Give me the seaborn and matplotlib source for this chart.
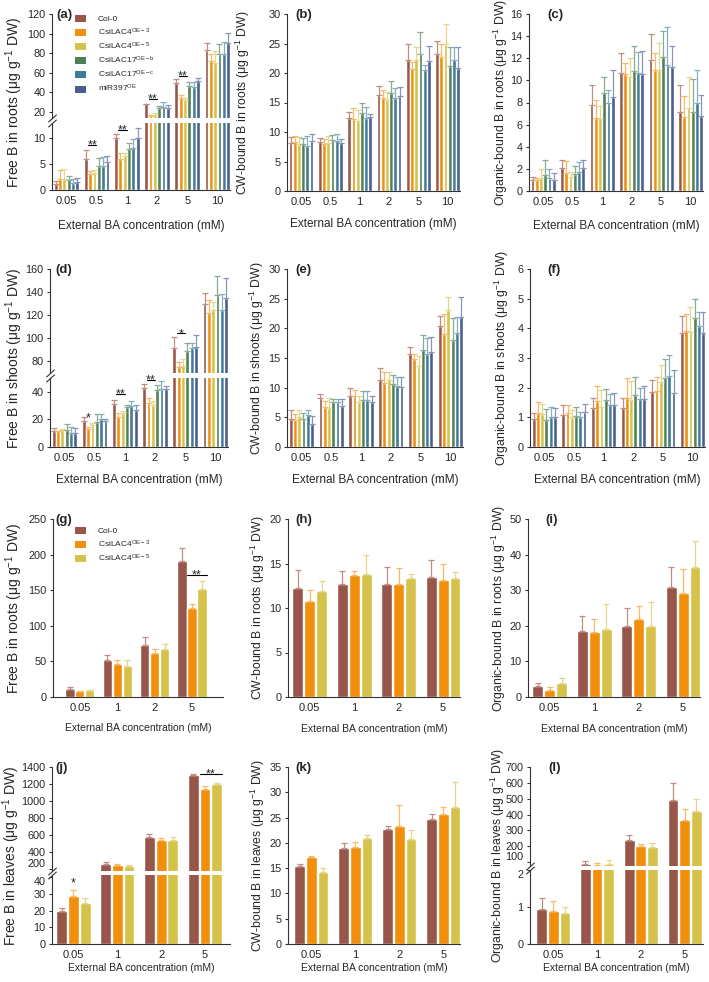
import numpy as np
import pandas as pd
import seaborn as sns
import matplotlib.pyplot as plt
from matplotlib.patches import Patch

# categories
conc6 = ['0.05', '0.5', '1', '2', '5', '10']
conc4 = ['0.05', '1', '2', '5']
genotypes = ['Col-0', 'CsiLAC4$^{OE-3}$', 'CsiLAC4$^{OE-5}$',
             'CsiLAC17$^{OE-b}$', 'CsiLAC17$^{OE-c}$', 'miR397$^{OE}$']
colors = ['#98564A', '#F18E0C', '#D5C24B', '#4F7F57', '#3F7B97', '#4B5E8D']
err_colors = ['#BC8E84', '#F6B967', '#E3D78E', '#8AAB8F', '#85AEC0', '#8895B5']

# values: one row per genotype, one column per concentration
a_mean = [[1.2, 6.1, 10.1, 27.8, 50.0, 83.1],
          [2.2, 3.2, 6.0, 15.8, 34.3, 71.9],
          [2.2, 3.25, 6.6, 17.0, 31.9, 70.2],
          [1.9, 4.7, 7.9, 24.1, 47.0, 78.7],
          [1.4, 4.6, 8.1, 25.1, 45.6, 79.0],
          [1.6, 5.5, 10.0, 24.1, 51.7, 90.6]]
a_err = [[0.5, 1.7, 0.8, 0.3, 3.8, 7.5],
         [1.6, 0.5, 1.1, 0.8, 3.4, 7.8],
         [1.8, 0.7, 0.5, 1.5, 2.8, 12.3],
         [0.8, 1.6, 1.3, 1.7, 4.0, 10.2],
         [0.7, 1.8, 1.7, 5.0, 5.0, 12.3],
         [0.7, 1.0, 2.0, 3.4, 3.5, 10.3]]

b_mean = [[8.1, 8.3, 12.35, 16.2, 22.2, 23.2],
          [8.3, 8.0, 12.2, 15.8, 20.6, 22.7],
          [7.9, 8.2, 11.9, 15.5, 22.2, 24.9],
          [8.0, 8.6, 13.2, 16.6, 23.2, 21.2],
          [7.7, 8.5, 12.3, 15.8, 20.5, 22.2],
          [8.5, 8.1, 12.5, 16.1, 22.1, 20.9]]
b_err = [[1.1, 0.7, 1.0, 1.6, 2.8, 2.3],
         [0.95, 0.8, 1.9, 1.3, 1.2, 2.3],
         [1.2, 1.2, 1.9, 1.3, 2.2, 3.4],
         [0.9, 0.9, 1.8, 2.0, 3.7, 3.2],
         [1.7, 1.1, 2.0, 1.7, 0.9, 2.2],
         [1.2, 0.7, 0.5, 1.5, 2.4, 3.5]]

c_mean = [[1.0, 2.1, 7.8, 10.7, 11.85, 7.1],
          [1.0, 1.6, 6.6, 10.6, 10.9, 6.65],
          [1.2, 1.25, 6.5, 10.3, 10.9, 7.5],
          [1.45, 1.55, 8.9, 10.85, 12.1, 7.1],
          [1.15, 1.75, 8.0, 10.7, 11.4, 8.0],
          [1.0, 2.1, 8.5, 10.6, 11.2, 6.75]]
c_err = [[0.3, 0.7, 1.8, 1.8, 2.3, 2.5],
         [0.15, 1.1, 1.6, 1.0, 1.6, 1.95],
         [0.8, 0.45, 1.2, 1.7, 2.5, 2.8],
         [1.35, 0.7, 1.4, 2.3, 2.35, 3.05],
         [0.8, 0.9, 1.1, 1.9, 3.45, 2.9],
         [0.6, 0.7, 2.4, 2.1, 1.9, 1.9]]

d_mean = [[11.5, 19.1, 31.2, 42.9, 91.6, 129.6],
          [11.5, 13.0, 22.1, 31.9, 74.5, 121.4],
          [12.3, 16.2, 24.5, 30.2, 75.7, 124.3],
          [12.3, 18.2, 28.7, 41.0, 88.4, 137.4],
          [9.8, 20.6, 29.4, 42.2, 91.0, 124.3],
          [9.8, 19.1, 27.0, 41.7, 92.5, 134.5]]
d_err = [[2.5, 2.5, 3.2, 2.5, 9.0, 9.8],
         [0.3, 1.7, 2.4, 3.7, 4.9, 11.6],
         [0.5, 1.5, 1.8, 2.9, 6.0, 7.3],
         [4.4, 5.6, 2.0, 3.7, 7.5, 16.5],
         [4.9, 3.2, 3.7, 5.4, 4.4, 14.0],
         [3.7, 1.3, 3.7, 2.5, 10.0, 17.4]]

e_mean = [[4.8, 8.2, 8.6, 11.25, 15.6, 20.4],
          [4.5, 6.75, 8.55, 10.8, 14.9, 19.1],
          [5.1, 6.6, 7.6, 11.35, 13.6, 23.1],
          [4.8, 7.6, 8.0, 10.7, 16.3, 18.1],
          [5.35, 7.6, 8.0, 10.3, 15.75, 19.25],
          [3.9, 6.9, 7.6, 10.1, 16.0, 21.9]]
e_err = [[1.5, 0.7, 1.4, 2.0, 1.2, 1.7],
         [1.0, 1.0, 1.0, 1.85, 0.7, 3.3],
         [1.2, 1.7, 1.0, 1.3, 1.7, 2.1],
         [0.9, 0.45, 1.45, 1.4, 2.55, 3.6],
         [0.95, 0.55, 1.4, 1.5, 2.55, 2.7],
         [1.4, 1.25, 1.0, 1.7, 2.6, 3.4]]

f_mean = [[0.96, 1.07, 1.32, 1.32, 1.86, 3.83],
          [1.16, 1.15, 1.54, 1.66, 1.89, 3.91],
          [1.10, 1.01, 1.35, 1.60, 2.20, 3.89],
          [0.90, 1.05, 1.58, 1.75, 2.33, 4.34],
          [1.01, 1.01, 1.41, 1.61, 2.39, 4.09],
          [1.01, 1.18, 1.41, 1.61, 1.82, 3.83]]
f_err = [[0.17, 0.34, 0.34, 0.34, 0.41, 0.58],
         [0.36, 0.27, 0.51, 0.68, 0.46, 0.59],
         [0.34, 0.23, 0.56, 0.62, 0.56, 0.84],
         [0.37, 0.30, 0.36, 0.61, 0.65, 0.65],
         [0.34, 0.17, 0.37, 0.39, 0.70, 0.47],
         [0.31, 0.28, 0.41, 0.44, 0.79, 0.73]]

g_mean = [[10.8, 51.6, 72.7, 190.9],
          [8.4, 46.9, 62.4, 124.3],
          [9.4, 43.2, 67.1, 151.0]]
g_err = [[3.2, 7.0, 11.7, 17.8],
         [0.5, 4.7, 5.6, 6.1],
         [0.5, 8.4, 8.0, 11.3]]

h_mean = [[12.2, 12.7, 12.75, 13.5],
          [10.8, 13.7, 12.65, 13.1],
          [11.9, 13.8, 13.4, 13.4]]
h_err = [[2.05, 1.45, 1.85, 1.9],
         [1.2, 0.5, 1.8, 1.8],
         [1.1, 2.1, 0.4, 0.65]]

i_mean = [[3.1, 18.5, 20.0, 30.8],
          [2.1, 18.3, 22.0, 29.3],
          [3.9, 19.2, 20.0, 36.6]]
i_err = [[0.8, 4.2, 5.0, 5.8],
         [0.7, 3.7, 3.5, 6.6],
         [1.3, 6.8, 6.7, 7.2]]

j_mean = [[19.6, 258, 582, 1302],
          [28.8, 247, 543, 1146],
          [24.2, 231, 543, 1205]]
j_err = [[1.6, 28, 27, 20],
         [3.6, 15, 19, 27],
         [3.2, 20, 39, 8]]

k_mean = [[15.4, 18.9, 22.7, 24.8],
          [17.2, 19.2, 23.4, 25.8],
          [14.3, 21.05, 20.7, 27.1]]
k_err = [[0.4, 1.0, 0.6, 1.0],
         [0.2, 1.0, 4.0, 1.3],
         [0.7, 0.6, 1.8, 4.9]]

l_mean = [[0.95, 87, 236, 491],
          [0.90, 79, 200, 364],
          [0.83, 87, 194, 423]]
l_err = [[0.3, 17, 34, 107],
         [0.25, 15, 11, 70],
         [0.17, 28, 27, 75]]

sns.set_style('ticks')
plt.rcParams['font.family'] = ['Liberation Sans', 'DejaVu Sans']
plt.rcParams['mathtext.default'] = 'regular'
plt.rcParams['axes.linewidth'] = 0.8
plt.rcParams['axes.edgecolor'] = '#333333'

W, H = 709, 982
fig = plt.figure(figsize=(W / 100, H / 100), dpi=100)


def box(l, t, r, b):
    return [l / W, 1 - b / H, (r - l) / W, (b - t) / H]


def draw_bars(ax, conc, mean, err, width, xlim, ylim, yticks):
    n = len(mean)
    df = pd.DataFrame([(g, c, v) for g, row in zip(genotypes, mean)
                       for c, v in zip(conc, row)],
                      columns=['geno', 'conc', 'val'])
    sns.barplot(df, x='conc', y='val', hue='geno', order=conc,
                hue_order=genotypes[:n], palette=colors[:n], saturation=1,
                width=width, gap=0.1 if n > 3 else 0.08, errorbar=None,
                legend=False, ax=ax)
    conts = list(ax.containers)
    for cont, ec, e in zip(conts, err_colors, err):
        xs = [p.get_x() + p.get_width() / 2 for p in cont]
        ys = [p.get_height() for p in cont]
        ax.errorbar(xs, ys, yerr=[np.zeros(len(e)), e], fmt='none',
                    ecolor=ec, elinewidth=0.9, capsize=1.9, capthick=0.9)
    ax.set_xlim(xlim)
    ax.set_ylim(ylim)
    ax.set_yticks(yticks)
    ax.set_xlabel('')
    ax.set_ylabel('')
    sns.despine(ax=ax)
    ax.tick_params(axis='x', length=0, pad=4, labelsize=8)
    ax.tick_params(axis='y', length=2.5, width=0.8, pad=2, labelsize=7.8,
                   color='#333333')
    return conts


def labels(ax, px, ylabel, ysize, ylab_x, tag, tag_x, xl_y, xl_size):
    l, t, r, b = px
    ax.set_ylabel(ylabel, fontsize=ysize, va='center')
    ax.yaxis.set_label_coords(ylab_x / W, 1 - (t + b) / 2 / H,
                              transform=fig.transFigure)
    ax.set_xlabel('External BA concentration (mM)', fontsize=xl_size,
                  va='center')
    ax.xaxis.set_label_coords((l + r) / 2 / W, 1 - xl_y / H,
                              transform=fig.transFigure)
    fig.text(tag_x / W, 1 - (t + 1) / H, tag, fontsize=9.5, fontweight='bold',
             va='center', ha='left')


def single(px, conc, mean, err, width, xlim, ylim, yticks):
    ax = fig.add_axes(box(*px))
    conts = draw_bars(ax, conc, mean, err, width, xlim, ylim, yticks)
    return ax, conts


def broken(px, split, conc, mean, err, width, xlim, ylo, yhi, tlo, thi):
    l, t, r, b = px
    ax_hi = fig.add_axes(box(l, t, r, split[0]))
    ax_lo = fig.add_axes(box(l, split[1], r, b))
    c_hi = draw_bars(ax_hi, conc, mean, err, width, xlim, yhi, thi)
    c_lo = draw_bars(ax_lo, conc, mean, err, width, xlim, ylo, tlo)
    ax_hi.spines['bottom'].set_visible(False)
    ax_hi.tick_params(axis='x', bottom=False, labelbottom=False)
    kw = dict(marker=[(-1, -0.9), (1, 0.9)], markersize=6, linestyle='none',
              color='#333333', mec='#333333', mew=0.8, clip_on=False)
    ax_hi.plot([0], [0], transform=ax_hi.transAxes, **kw)
    ax_lo.plot([0], [1], transform=ax_lo.transAxes, **kw)
    return ax_hi, ax_lo, c_hi, c_lo


def pull_apart(ax_hi, ax_lo):
    # the tick labels on both sides of a narrow break would sit on each other
    ax_hi.yaxis.get_major_ticks()[0].label1.set_va('bottom')
    ax_lo.yaxis.get_major_ticks()[-1].label1.set_va('top')


def sig(ax, conts, cat, y, text, pair=True):
    b1, b2 = conts[1][cat], conts[2][cat]
    if pair:
        x1, x2 = b1.get_x(), b2.get_x() + b2.get_width()
        ax.plot([x1, x2], [y, y], color='k', lw=0.8, clip_on=False)
        xm = (x1 + x2) / 2
    else:
        xm = b1.get_x() + b1.get_width() / 2
    ax.annotate(text, (xm, y), xytext=(0, -2.6), textcoords='offset points',
                ha='center', va='baseline', fontsize=9, annotation_clip=False)


def legend(n, x, y):
    handles = [Patch(facecolor=c, edgecolor='none', label=g)
               for c, g in zip(colors[:n], genotypes[:n])]
    fig.legend(handles=handles, loc='upper left', bbox_to_anchor=(x / W, 1 - y / H),
               frameon=False, fontsize=6, handlelength=1.3, handleheight=0.9,
               handletextpad=1.4, labelspacing=0.35, borderpad=0.1)


xl6 = (-0.48, 5.42)
w6 = 0.86
w4 = 0.8
big, small = 10, 8.8

# (a)
pa = (52, 14, 230, 190)
a_hi, a_lo, ca_hi, ca_lo = broken(pa, (118, 123), conc6, a_mean, a_err, w6, xl6,
                                  (0, 13), (13.9, 120), [0, 5, 10],
                                  [20, 40, 60, 80, 100, 120])
labels(a_lo, pa, 'Free B in roots (μg g$^{-1}$ DW)', big, 14, '(a)', 56, 226, 8.5)
sig(a_lo, ca_lo, 1, 8.7, '**')
sig(a_lo, ca_lo, 2, 11.6, '**')
sig(a_hi, ca_hi, 3, 33, '**')
sig(a_hi, ca_hi, 4, 56.6, '**')
legend(6, 70, 10)

# (b)
pb = (287, 14, 460, 191)
ax, cb = single(pb, conc6, b_mean, b_err, w6, xl6, (0, 30), range(0, 31, 5))
labels(ax, pb, 'CW-bound B in roots (μg g$^{-1}$ DW)', small, 243, '(b)', 295, 224, 8.5)

# (c)
pc = (529, 14, 703, 191)
ax, cc = single(pc, conc6, c_mean, c_err, w6, xl6, (0, 16), range(0, 17, 2))
labels(ax, pc, 'Organic-bound B in roots (μg g$^{-1}$ DW)', small, 501, '(c)', 547, 226, 8.5)

# (d)
pd_ = (50, 269, 228, 447)
d_hi, d_lo, cd_hi, cd_lo = broken(pd_, (373, 378), conc6, d_mean, d_err, w6, xl6,
                                  (0, 50), (69.6, 160), [0, 20, 40],
                                  [80, 100, 120, 140, 160])
labels(d_lo, pd_, 'Free B in shoots (μg g$^{-1}$ DW)', big, 14, '(d)', 55, 480, 8.5)
sig(d_lo, cd_lo, 1, 21, '*', pair=False)
sig(d_lo, cd_lo, 2, 38.6, '**')
sig(d_lo, cd_lo, 3, 48.5, '**')
sig(d_hi, cd_hi, 4, 104, '*')

# (e)
pe = (287, 269, 463, 447)
ax, ce = single(pe, conc6, e_mean, e_err, w6, xl6, (0, 30), range(0, 31, 5))
labels(ax, pe, 'CW-bound B in shoots (μg g$^{-1}$ DW)', small, 257, '(e)', 295, 480, 8.5)

# (f)
pf = (530, 269, 705, 447)
ax, cf = single(pf, conc6, f_mean, f_err, w6, xl6, (0, 6), range(0, 7))
labels(ax, pf, 'Organic-bound B in shoots (μg g$^{-1}$ DW)', small, 502, '(f)', 547, 480, 8.5)

# (g)
pg = (53, 519, 223, 697)
ax, cg = single(pg, conc4, g_mean, g_err, w4, (-0.72, 3.83), (0, 250),
                range(0, 251, 50))
labels(ax, pg, 'Free B in roots (μg g$^{-1}$ DW)', big, 14, '(g)', 55, 728, 7.5)
sig(ax, cg, 3, 172, '**')
legend(3, 70, 522)

# (h)
ph = (288, 519, 460, 697)
ax, ch = single(ph, conc4, h_mean, h_err, w4, (-0.49, 3.38), (0, 20),
                range(0, 21, 5))
labels(ax, ph, 'CW-bound B in roots (μg g$^{-1}$ DW)', small, 258, '(h)', 295, 729, 7.5)

# (i)
pi = (528, 519, 700, 697)
ax, ci = single(pi, conc4, i_mean, i_err, w4, (-0.49, 3.38), (0, 50),
                range(0, 51, 10))
labels(ax, pi, 'Organic-bound B in roots (μg g$^{-1}$ DW)', small, 499, '(i)', 545, 729, 7.5)

# (j)
pj = (52, 767, 230, 944)
j_hi, j_lo, cj_hi, cj_lo = broken(pj, (871, 875), conc4, j_mean, j_err, w4,
                                  (-0.49, 3.57), (0, 41.2), (176, 1400),
                                  [0, 10, 20, 30, 40], range(200, 1401, 200))
labels(j_lo, pj, 'Free B in leaves (μg g$^{-1}$ DW)', big, 11, '(j)', 55, 968, 7.5)
pull_apart(j_hi, j_lo)
sig(j_lo, cj_lo, 0, 36.5, '*', pair=False)
sig(j_hi, cj_hi, 3, 1322, '**')

# (k)
pk = (288, 767, 460, 944)
ax, ck = single(pk, conc4, k_mean, k_err, w4, (-0.53, 3.38), (0, 35),
                range(0, 36, 5))
labels(ax, pk, 'CW-bound B in leaves (μg g$^{-1}$ DW)', small, 258, '(k)', 295, 968, 7.5)

# (l)
pl = (530, 767, 703, 944)
l_hi, l_lo, cl_hi, cl_lo = broken(pl, (866, 870), conc4, l_mean, l_err, w4,
                                  (-0.53, 3.42), (0, 2), (75, 700),
                                  [0, 1, 2], range(100, 701, 100))
labels(l_lo, pl, 'Organic-bound B in leaves (μg g$^{-1}$ DW)', small, 498, '(l)', 548, 968, 7.5)
pull_apart(l_hi, l_lo)

fig.savefig('out.png', dpi=100)
